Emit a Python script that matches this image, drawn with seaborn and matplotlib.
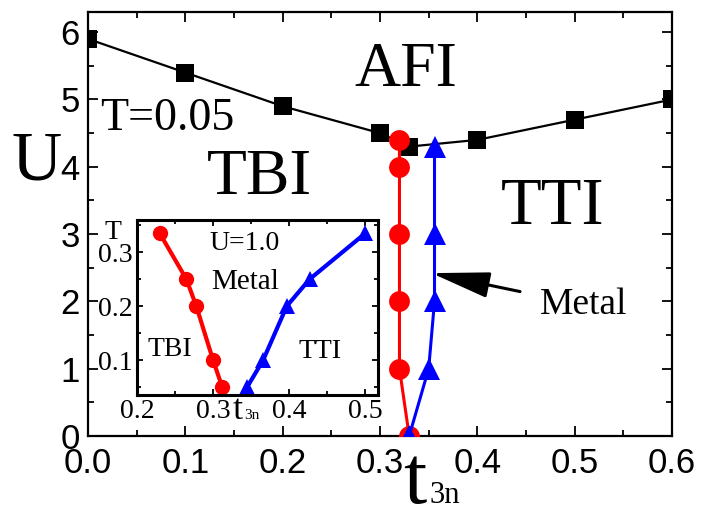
import matplotlib
matplotlib.use("Agg")
import matplotlib.pyplot as plt
import seaborn as sns
import numpy as np

# ---- data (main panel, T=0.05) ----
afi_t3n = [0.0, 0.1, 0.2, 0.3, 0.33, 0.4, 0.5, 0.6]
afi_U = [5.9, 5.4, 4.9, 4.5, 4.3, 4.4, 4.7, 5.0]
tbi_t3n = [0.32, 0.32, 0.32, 0.32, 0.32, 0.33]
tbi_U = [4.4, 4.0, 3.0, 2.0, 1.0, 0.0]
tti_t3n = [0.33, 0.35, 0.356, 0.356, 0.356]
tti_U = [0.0, 1.0, 2.0, 3.0, 4.3]

# ---- data (inset, U=1.0) ----
in_tbi_t3n = [0.23, 0.265, 0.278, 0.30, 0.312]
in_tbi_T = [0.335, 0.25, 0.20, 0.10, 0.05]
in_tti_t3n = [0.345, 0.366, 0.397, 0.427, 0.50]
in_tti_T = [0.05, 0.10, 0.20, 0.25, 0.335]

main_xticks = [0.0, 0.1, 0.2, 0.3, 0.4, 0.5, 0.6]
main_xticklabels = ["0.0", "0.1", "0.2", "0.3", "0.4", "0.5", "0.6"]
main_yticks = [0, 1, 2, 3, 4, 5, 6]
in_xticks = [0.2, 0.3, 0.4, 0.5]
in_yticks = [0.1, 0.2, 0.3]

sns.set_style("ticks")
plt.rcParams["font.family"] = ["Liberation Serif", "DejaVu Serif"]
plt.rcParams["text.color"] = "black"
plt.rcParams["axes.labelcolor"] = "black"
plt.rcParams["xtick.color"] = "black"
plt.rcParams["ytick.color"] = "black"
plt.rcParams["axes.edgecolor"] = "black"

W, H = 709, 516
fig = plt.figure(figsize=(W / 100, H / 100), dpi=100)

def frac(l, t, r, b):
    return [l / W, 1 - b / H, (r - l) / W, (b - t) / H]

ax = fig.add_axes(frac(88, 12, 672, 436))
RED = "#ff0000"
BLUE = "#0000ff"

sns.lineplot(x=afi_t3n, y=afi_U, sort=False, estimator=None, ax=ax, color="black",
             linewidth=1.6, marker="s", markersize=13, markeredgecolor="black",
             markeredgewidth=0, zorder=3)
sns.lineplot(x=tbi_t3n, y=tbi_U, sort=False, estimator=None, ax=ax, color=RED,
             linewidth=2.2, marker="o", markersize=15, markeredgecolor=RED,
             markeredgewidth=0, zorder=4)
sns.lineplot(x=tti_t3n, y=tti_U, sort=False, estimator=None, ax=ax, color=BLUE,
             linewidth=2.2, marker="^", markersize=16, markeredgecolor=BLUE,
             markeredgewidth=0, zorder=5)

ax.set_xlim(0, 0.6)
ax.set_ylim(0, 6.3)
ax.set_xticks(main_xticks)
ax.set_xticklabels(main_xticklabels)
ax.set_yticks(main_yticks)
ax.set_xticks(np.arange(0.05, 0.6, 0.1), minor=True)
ax.set_yticks(np.arange(0.5, 6.3, 1.0), minor=True)
ax.tick_params(which="both", direction="in", top=True, right=True, width=1.3)
ax.tick_params(which="major", length=7)
ax.tick_params(which="minor", length=4)
ax.tick_params(axis="x", which="major", pad=8)
ax.tick_params(axis="y", which="major", pad=6)
for lab in ax.get_xticklabels() + ax.get_yticklabels():
    lab.set_fontfamily("Liberation Sans")
    lab.set_fontsize(25)
for s in ax.spines.values():
    s.set_linewidth(1.6)
    s.set_color("black")
ax.set_xlabel("")
ax.set_ylabel("U", rotation=0, fontsize=50, va="center", ha="center")
ax.yaxis.set_label_coords(-0.088, 0.645)

# region labels
ax.text(0.327, 5.42, "AFI", fontsize=46, ha="center", va="center")
ax.text(0.012, 4.72, "T=0.05", fontsize=33, ha="left", va="center")
ax.text(0.176, 3.83, "TBI", fontsize=47, ha="center", va="center")
ax.text(0.477, 3.39, "TTI", fontsize=48, ha="center", va="center")
ax.annotate("Metal", xy=(0.353, 2.42), xytext=(0.464, 1.95), fontsize=27,
            ha="left", va="center",
            arrowprops=dict(arrowstyle="-|>,head_length=1.8,head_width=0.4",
                            color="black", lw=2.2, shrinkA=12, shrinkB=0,
                            mutation_scale=20))

# x-axis label t_3n
fig.text(415 / W, 1 - 503 / H, "t", fontsize=60, ha="center", va="baseline")
fig.text(430 / W, 1 - 503 / H, "3n", fontsize=22, ha="left", va="baseline")

# ---- inset ----
ins = fig.add_axes(frac(137, 220, 378, 395))
ins.set_facecolor("white")
sns.lineplot(x=in_tbi_t3n, y=in_tbi_T, sort=False, estimator=None, ax=ins, color=RED,
             linewidth=3, marker="o", markersize=11, markeredgecolor=RED,
             markeredgewidth=0)
sns.lineplot(x=in_tti_t3n, y=in_tti_T, sort=False, estimator=None, ax=ins, color=BLUE,
             linewidth=3, marker="^", markersize=12, markeredgecolor=BLUE,
             markeredgewidth=0)
ins.set_xlim(0.2, 0.517)
ins.set_ylim(0.035, 0.36)
ins.set_xticks(in_xticks)
ins.set_xticklabels(["0.2", "0.3", "0.4", "0.5"])
ins.set_yticks(in_yticks)
ins.set_yticklabels(["0.1", "0.2", "0.3"])
ins.set_xticks([0.25, 0.35, 0.45], minor=True)
ins.set_yticks([0.05, 0.15, 0.25, 0.35], minor=True)
ins.tick_params(which="both", direction="in", top=True, right=True, width=1.3,
                labelsize=20, pad=3)
ins.tick_params(which="major", length=4)
ins.tick_params(which="minor", length=3)
for s in ins.spines.values():
    s.set_linewidth(2.2)
    s.set_color("black")
ins.set_xlabel("")
ins.set_ylabel("")
ins.text(0.342, 0.317, "U=1.0", fontsize=20, ha="center", va="center")
ins.text(0.342, 0.244, "Metal", fontsize=21, ha="center", va="center")
ins.text(0.243, 0.12, "TBI", fontsize=20, ha="center", va="center")
ins.text(0.441, 0.115, "TTI", fontsize=20, ha="center", va="center")
ins.text(-0.1, 0.93, "T", fontsize=20, ha="center", va="center", transform=ins.transAxes)
fig.text(238 / W, 1 - 419 / H, "t", fontsize=26, ha="center", va="baseline")
fig.text(244 / W, 1 - 419 / H, "3n", fontsize=11, ha="left", va="baseline")

fig.savefig("out.png", dpi=100, facecolor="white")
